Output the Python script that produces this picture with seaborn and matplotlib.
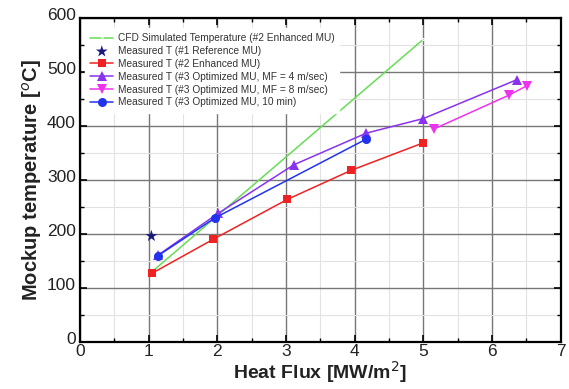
import matplotlib
matplotlib.use("Agg")
import matplotlib.pyplot as plt
import matplotlib.transforms as mtransforms
import seaborn as sns
import pandas as pd
from matplotlib.ticker import MultipleLocator

sns.set_theme(style="white")
plt.rcParams['font.family'] = ['Liberation Sans', 'DejaVu Sans']

# Data
cfd_x = [1.05, 5.0]
cfd_y = [130, 561]
ref_x = [1.04]
ref_y = [196]
enh_x = [1.05, 1.94, 3.02, 3.95, 5.0]
enh_y = [127, 190, 264, 318, 369]
opt4_x = [1.13, 2.01, 3.11, 4.17, 5.0, 6.36]
opt4_y = [160, 238, 328, 387, 414, 486]
opt8_x = [5.16, 6.24, 6.51]
opt8_y = [395, 457, 475]
opt10_x = [1.13, 1.97, 4.17]
opt10_y = [159, 230, 376]

labels = ["CFD Simulated Temperature (#2 Enhanced MU)",
          "Measured T (#1 Reference MU)",
          "Measured T (#2 Enhanced MU)",
          "Measured T (#3 Optimized MU, MF = 4 m/sec)",
          "Measured T (#3 Optimized MU, MF = 8 m/sec)",
          "Measured T (#3 Optimized MU, 10 min)"]

fig = plt.figure(figsize=(5.69, 3.89), dpi=100)
ax = fig.add_axes([80/569, 1-341.7/389, 480.7/569, (341.7-18.3)/389])

sns.lineplot(x=cfd_x, y=cfd_y, ax=ax, color="#66dd55", lw=1.1, marker=".",
             markersize=3, label=labels[0], sort=False, estimator=None)
sns.scatterplot(x=ref_x, y=ref_y, ax=ax, color="#1a1a7a", marker="*", s=80,
                edgecolor="none", label=labels[1])
sns.lineplot(x=enh_x, y=enh_y, ax=ax, color="#ee2222", lw=1.1, marker="s",
             markersize=6, markeredgewidth=0, label=labels[2], sort=False, estimator=None)
sns.lineplot(x=opt4_x, y=opt4_y, ax=ax, color="#8833ee", lw=1.1, marker="^",
             markersize=6.5, markeredgewidth=0, label=labels[3], sort=False, estimator=None)
sns.lineplot(x=opt8_x, y=opt8_y, ax=ax, color="#ee33ee", lw=1.1, marker="v",
             markersize=6.5, markeredgewidth=0, label=labels[4], sort=False, estimator=None)
sns.lineplot(x=opt10_x, y=opt10_y, ax=ax, color="#2233ee", lw=1.1, marker="o",
             markersize=6.5, markeredgewidth=0, label=labels[5], sort=False, estimator=None)

ax.set_xlim(0, 7)
ax.set_ylim(0, 600)
ax.xaxis.set_major_locator(MultipleLocator(1))
ax.xaxis.set_minor_locator(MultipleLocator(0.5))
ax.yaxis.set_major_locator(MultipleLocator(100))
ax.yaxis.set_minor_locator(MultipleLocator(50))
ax.grid(True, which="major", color="#777777", lw=1.0)
ax.grid(True, which="minor", color="#e2e2e2", lw=0.8)
ax.set_axisbelow(True)
ax.tick_params(which="both", direction="in", top=True, right=True,
               bottom=True, left=True, colors="black")
ax.tick_params(which="major", length=5, width=1.2, labelsize=12.5, pad=2)
ax.tick_params(which="minor", length=3, width=1.0)
ax.tick_params(axis="x", labelcolor="#222222", pad=2)
ax.tick_params(axis="y", labelcolor="#222222", pad=3)
for s in ax.spines.values():
    s.set_visible(True)
    s.set_color("black")
    s.set_linewidth(1.6)

# nudge y tick labels up slightly so the two zeros do not collide
offset = mtransforms.ScaledTranslation(0, 4/100, fig.dpi_scale_trans)
for lbl in ax.get_yticklabels():
    lbl.set_transform(lbl.get_transform() + offset)

ax.set_xlabel("Heat Flux [MW/m$^2$]", fontsize=14, fontweight="bold", labelpad=0, color="#222222")
ax.set_ylabel("Mockup temperature [$^o$C]", fontsize=14.5, fontweight="bold", labelpad=2, color="#222222")

leg = ax.legend(loc="upper left", fontsize=7.3, frameon=True, framealpha=1,
                edgecolor="white", facecolor="white", handlelength=2.3,
                handletextpad=0.4, labelspacing=0.28, borderpad=0.5,
                bbox_to_anchor=(0.0, 0.985))
for t in leg.get_texts():
    t.set_color("#333333")

fig.savefig("out.png", dpi=100)
